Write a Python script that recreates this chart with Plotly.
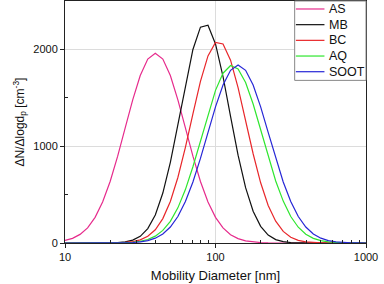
import plotly.graph_objects as go

# Mobility diameter bins [nm]
diameter = [10.0, 11.22, 12.59, 14.13, 15.85, 17.78, 19.95, 22.39, 25.12, 28.18, 31.62, 35.48,
            39.81, 44.67, 50.12, 56.23, 63.1, 70.79, 79.43, 89.13, 100.0, 112.2, 125.89, 141.25,
            158.49, 177.83, 199.53, 223.87, 251.19, 281.84, 316.23, 354.81, 398.11, 446.68,
            501.19, 562.34, 630.96, 707.95, 794.33, 891.25, 1000.0]

AS = [26, 48, 89, 156, 265, 424, 636, 897, 1189, 1479, 1730, 1900, 1960, 1900, 1730, 1479,
      1189, 897, 636, 424, 265, 156, 86, 45, 22, 10, 4, 2, 1, 0, 0, 0, 0, 0, 0, 0, 0, 0, 0, 0, 0]
MB = [0, 0, 0, 0, 0, 0, 1, 4, 11, 30, 69, 149, 290, 516, 833, 1226, 1641, 1999, 2230, 2250,
      2056, 1720, 1309, 907, 572, 328, 172, 82, 35, 14, 5, 2, 0, 0, 0, 0, 0, 0, 0, 0, 0]
BC = [0, 0, 0, 0, 0, 0, 1, 2, 6, 14, 32, 69, 137, 252, 429, 677, 988, 1335, 1670, 1933, 2072,
      2056, 1889, 1606, 1265, 922, 622, 388, 225, 120, 60, 27, 12, 5, 2, 1, 0, 0, 0, 0, 0]
AQ = [0, 0, 0, 0, 0, 0, 1, 1, 3, 8, 18, 36, 71, 130, 224, 363, 552, 788, 1057, 1332, 1577,
      1754, 1833, 1799, 1658, 1436, 1169, 893, 641, 433, 274, 163, 91, 48, 24, 11, 5, 2, 1, 0, 0]
SOOT = [0, 0, 0, 0, 0, 0, 0, 1, 2, 5, 12, 25, 50, 94, 165, 274, 428, 630, 874, 1142, 1406,
        1632, 1784, 1838, 1784, 1632, 1406, 1142, 874, 630, 428, 274, 165, 94, 50, 25, 12, 5, 2, 1, 0]

series_names = ["AS", "MB", "BC", "AQ", "SOOT"]
series_values = [AS, MB, BC, AQ, SOOT]
series_colors = ["#e62b8c", "#111111", "#e8262a", "#2ee62e", "#2626d6"]

x_tickvals = [10, 100, 1000]
x_ticktext = ["10", "100", "1000"]
x_minor = [20, 30, 40, 50, 60, 70, 80, 90, 200, 300, 400, 500, 600, 700, 800, 900]
y_tickvals = [0, 1000, 2000]
y_minor = [500, 1500]

FONT = "Liberation Sans, Arial, sans-serif"

fig = go.Figure()
for name, vals, col in zip(series_names, series_values, series_colors):
    fig.add_trace(go.Scatter(x=diameter, y=vals, name=name, mode="lines",
                             line=dict(color=col, width=1.2), showlegend=False))

axis_common = dict(showline=True, linecolor="#222", linewidth=1, mirror=True,
                   gridcolor="#dcdcdc", gridwidth=1, zeroline=False,
                   ticks="outside", ticklen=4, tickcolor="#222",
                   tickfont=dict(size=11, color="#111", family=FONT))

fig.update_xaxes(type="log", range=[1, 3], tickvals=x_tickvals, ticktext=x_ticktext,
                 minor=dict(tickvals=x_minor, ticks="inside", ticklen=3, tickcolor="#222", showgrid=False),
                 title=dict(text="Mobility Diameter [nm]", font=dict(size=13, color="#111", family=FONT), standoff=8),
                 **axis_common)
fig.update_yaxes(range=[0, 2500], tickvals=y_tickvals,
                 minor=dict(tickvals=y_minor, ticks="inside", ticklen=3, tickcolor="#222", showgrid=False),
                 title=dict(text="ΔN/Δlogd<sub>p</sub> [cm<sup>-3</sup>]", font=dict(size=12, color="#111", family=FONT), standoff=6),
                 **axis_common)

# Legend box drawn in the plot's paper coordinates (upper right corner)
leg_x0, leg_x1, leg_y0, leg_y1 = 0.763, 1.0, 0.672, 1.0
row_top, row_step = 0.967, 0.0648
line_x0, line_x1, text_x = 0.767, 0.862, 0.872
shapes = [dict(type="rect", xref="paper", yref="paper", x0=leg_x0, x1=leg_x1, y0=leg_y0, y1=leg_y1,
               line=dict(color="#888", width=1), fillcolor="white", layer="above")]
annotations = []
for i, (name, col) in enumerate(zip(series_names, series_colors)):
    yy = row_top - i * row_step
    shapes.append(dict(type="line", xref="paper", yref="paper", x0=line_x0, x1=line_x1, y0=yy, y1=yy,
                       line=dict(color=col, width=1.2), layer="above"))
    annotations.append(dict(text=name, xref="paper", yref="paper", x=text_x, y=yy,
                            xanchor="left", yanchor="middle", showarrow=False,
                            font=dict(size=12.5, color="#111", family=FONT)))

fig.update_layout(
    width=384, height=284,
    margin=dict(l=65, r=18, t=1, b=41, autoexpand=False),
    paper_bgcolor="white", plot_bgcolor="white",
    font=dict(family=FONT, size=12, color="#111"),
    showlegend=False,
    shapes=shapes, annotations=annotations,
)

fig.write_html("out.html", config={"displayModeBar": False},
               post_script="document.body.style.margin='0px';")
